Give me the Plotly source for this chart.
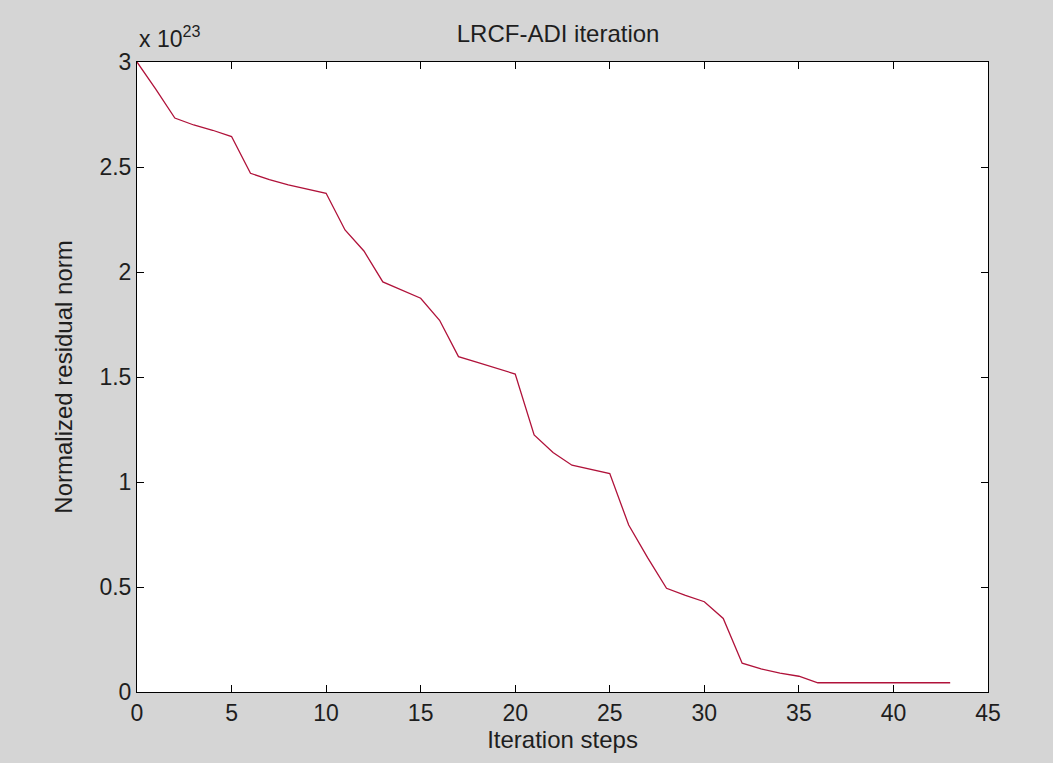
import plotly.graph_objects as go

steps = list(range(0, 44))
residual_e23 = [3.0, 2.87, 2.733, 2.70, 2.675, 2.645, 2.47, 2.44, 2.415, 2.395,
                2.375, 2.20, 2.10, 1.953, 1.915, 1.875, 1.77, 1.597, 1.57, 1.543,
                1.514, 1.224, 1.14, 1.08, 1.06, 1.04, 0.795, 0.64, 0.494, 0.46,
                0.43, 0.35, 0.137, 0.11, 0.09, 0.075, 0.044, 0.044, 0.044, 0.044,
                0.044, 0.044, 0.044, 0.044]
x_ticks = [0, 5, 10, 15, 20, 25, 30, 35, 40, 45]
y_ticks = [0, 0.5, 1, 1.5, 2, 2.5, 3]
y_tick_labels = ["0", "0.5", "1", "1.5", "2", "2.5", "3"]

FONT = "Liberation Sans, Arial, sans-serif"
FS = 24
TXT = "#1e1e1e"
BG = "#D5D5D5"

fig = go.Figure()
fig.add_trace(go.Scatter(x=steps, y=residual_e23, mode="lines",
                         line=dict(color="#B0123A", width=1.3),
                         showlegend=False, hoverinfo="skip"))

axis_common = dict(showgrid=False, zeroline=False, showline=True, linecolor="black",
                   linewidth=1, mirror="ticks", ticks="inside", ticklen=7,
                   tickcolor="black", tickwidth=1,
                   tickfont=dict(family=FONT, size=FS - 1, color=TXT))

fig.update_layout(
    width=1053, height=763,
    paper_bgcolor=BG, plot_bgcolor="white",
    margin=dict(l=137, r=65, t=62, b=71),
    title=dict(text="LRCF-ADI iteration", x=0.530, xanchor="center",
               y=1 - 34 / 763, yanchor="middle",
               font=dict(family=FONT, size=FS, color=TXT)),
    xaxis=dict(range=[0, 45], tickvals=x_ticks, **axis_common,
               title=dict(text="Iteration steps", standoff=2,
                          font=dict(family=FONT, size=FS, color=TXT))),
    yaxis=dict(range=[0, 3], tickvals=y_ticks, ticktext=y_tick_labels, **axis_common,
               title=dict(text="Normalized residual norm", standoff=20,
                          font=dict(family=FONT, size=FS, color=TXT))),
    annotations=[dict(text="x 10<sup>23</sup>", xref="paper", yref="paper",
                      x=0, y=1, xanchor="left", yanchor="bottom", yshift=8,
                      showarrow=False,
                      font=dict(family=FONT, size=FS - 1, color=TXT))],
)

fig.write_html("out.html")
